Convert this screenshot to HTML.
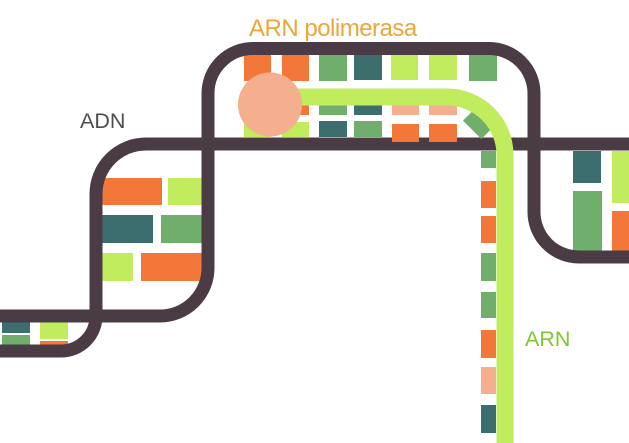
<!DOCTYPE html>
<html><head><meta charset="utf-8"><style>
html,body{margin:0;padding:0;background:#fff;}
svg{display:block;}
</style></head><body>
<svg width="629" height="443" viewBox="0 0 629 443" xmlns="http://www.w3.org/2000/svg">
<rect width="629" height="443" fill="#fff"/>
<!-- left loop rects -->
<rect x="102" y="178" width="60" height="27" fill="#f4773a"/>
<rect x="168" y="178" width="36" height="27" fill="#c0ec5e"/>
<rect x="102" y="215" width="51" height="28" fill="#3d6e6f"/>
<rect x="161" y="215" width="43" height="28" fill="#6fae6b"/>
<rect x="102" y="253" width="31" height="28" fill="#c0ec5e"/>
<rect x="141" y="253" width="63" height="28" fill="#f4773a"/>
<!-- bottom-left rects -->
<rect x="2" y="321" width="28" height="12" fill="#3d6e6f"/>
<rect x="2" y="335" width="28" height="15" fill="#6fae6b"/>
<rect x="40" y="321" width="28" height="18" fill="#c0ec5e"/>
<rect x="40" y="341" width="28" height="10" fill="#f4773a"/>
<!-- top loop rects: top row -->
<rect x="244" y="55" width="27" height="26" fill="#f4773a"/>
<rect x="282" y="55" width="27" height="26" fill="#f4773a"/>
<rect x="319" y="55" width="28" height="26" fill="#6fae6b"/>
<rect x="354" y="55" width="28" height="25" fill="#3d6e6f"/>
<rect x="391" y="55" width="27" height="25" fill="#c0ec5e"/>
<rect x="429" y="55" width="28" height="25" fill="#c0ec5e"/>
<rect x="469" y="55" width="28" height="26" fill="#6fae6b"/>
<!-- middle row -->
<rect x="282" y="95" width="27" height="20" fill="#f4773a"/>
<rect x="319" y="95" width="28" height="20" fill="#6fae6b"/>
<rect x="354" y="95" width="28" height="20" fill="#3d6e6f"/>
<rect x="392" y="95" width="27" height="20" fill="#f5ae8e"/>
<rect x="429" y="95" width="28" height="20" fill="#f5ae8e"/>
<!-- bottom row -->
<rect x="244" y="122" width="27" height="15" fill="#c0ec5e"/>
<rect x="282" y="122" width="27" height="15" fill="#c0ec5e"/>
<rect x="319" y="121" width="28" height="16" fill="#3d6e6f"/>
<rect x="354" y="121" width="28" height="16" fill="#6fae6b"/>
<!-- right rects -->
<rect x="573" y="151" width="28" height="32" fill="#3d6e6f"/>
<rect x="573" y="191" width="29" height="60" fill="#6fae6b"/>
<rect x="612" y="151" width="17" height="52" fill="#c0ec5e"/>
<rect x="612" y="211" width="17" height="40" fill="#f4773a"/>
<!-- strands -->
<g fill="none" stroke="#4a3b45" stroke-width="13">
<path d="M0 316 H160 A48 48 0 0 0 208 268 V93 A45 45 0 0 1 253 48.5 H489 A45 45 0 0 1 534 93.5 V212 A45 45 0 0 0 579 257 H629"/>
<path d="M0 351 H61 A35 35 0 0 0 96 316 V194 A50 50 0 0 1 146 144 H629"/>
</g>
<rect x="392" y="124" width="27" height="18" fill="#f4773a"/>
<rect x="429" y="124" width="28" height="18" fill="#f4773a"/>
<!-- RNA dashes -->
<rect x="481" y="151" width="15" height="17" fill="#6fae6b"/>
<rect x="481" y="181" width="15" height="27" fill="#f4773a"/>
<rect x="481" y="216" width="15" height="27" fill="#f4773a"/>
<rect x="481" y="253" width="15" height="28" fill="#6fae6b"/>
<rect x="481" y="292" width="15" height="26" fill="#6fae6b"/>
<rect x="481" y="330" width="15" height="28" fill="#f4773a"/>
<rect x="481" y="367" width="15" height="27" fill="#f5ae8e"/>
<rect x="481" y="405" width="15" height="28" fill="#3d6e6f"/>
<rect x="-7.5" y="-13" width="15" height="26" fill="#6fae6b" transform="translate(477.5 124.5) rotate(-45)"/>
<!-- RNA band -->
<path d="M270 97 H447 A58 58 0 0 1 505 155 V443" fill="none" stroke="#c0ec5e" stroke-width="17"/>
<!-- polymerase -->
<circle cx="270" cy="104.5" r="32" fill="#f5ae8e"/>
<!-- labels -->
<text x="249" y="36" font-family="Liberation Sans, sans-serif" font-size="24" letter-spacing="-0.5" fill="#eea53a">ARN polimerasa</text>
<text x="80" y="128" font-family="Liberation Sans, sans-serif" font-size="21.5" fill="#4d4d4d">ADN</text>
<text x="525" y="346" font-family="Liberation Sans, sans-serif" font-size="21.5" fill="#7dc82e">ARN</text>
</svg>
</body></html>
